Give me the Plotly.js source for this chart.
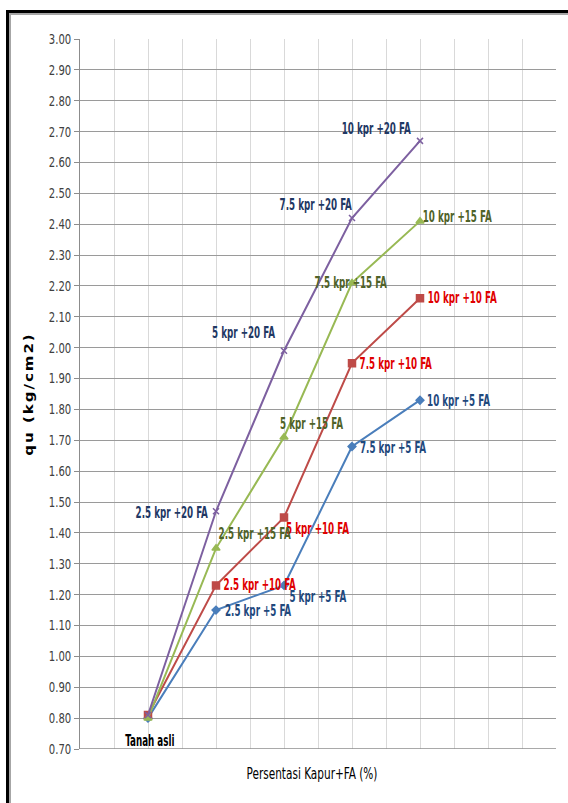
<!DOCTYPE html>
<html>
<head>
<meta charset="utf-8">
<script src="https://cdn.plot.ly/plotly-3.0.1.min.js"></script>
<style>
  html, body { margin: 0; padding: 0; background: #fff; }
  #chart { position: absolute; left: 0; top: 0; width: 568px; height: 803px; }
  #frame { position: absolute; left: 6px; top: 10px; width: 600px; height: 840px;
           border-left: 3px solid #000; border-top: 3px solid #000; pointer-events: none; }
  #frame2 { position: absolute; left: 9px; top: 13px; width: 600px; height: 840px;
           border-left: 2px solid #a6a6a6; border-top: 2px solid #a6a6a6; pointer-events: none; }
</style>
</head>
<body>
<div id="chart"></div>
<div id="frame"></div>
<div id="frame2"></div>
<script>
// Kapur percentage (x positions)
const kapur = [0, 2.5, 5, 7.5, 10];

// qu values (kg/cm2) for each FA series
const fa5  = [0.80, 1.15, 1.23, 1.68, 1.83];
const fa10 = [0.81, 1.23, 1.45, 1.95, 2.16];
const fa15 = [0.80, 1.35, 1.71, 2.21, 2.41];
const fa20 = [0.81, 1.47, 1.99, 2.42, 2.67];

// Point labels
const lbl5  = ["", "2.5 kpr +5 FA", "5 kpr +5 FA", "7.5 kpr +5 FA", "10 kpr +5 FA"];
const lbl10 = ["", "2.5 kpr +10 FA", "5 kpr +10 FA", "7.5 kpr +10 FA", "10 kpr +10 FA"];
const lbl15 = ["", "2.5 kpr +15 FA", "5 kpr +15 FA", "7.5 kpr +15 FA", "10 kpr +15 FA"];
const lbl20 = ["", "2.5 kpr +20 FA", "5 kpr +20 FA", "7.5 kpr +20 FA", "10 kpr +20 FA"];
const baseLabel = "Tanah asli";

const yTitle = "qu (kg/cm2)";
const xTitle = "Persentasi Kapur+FA (%)";

const COND = '"DejaVu Sans Condensed", "DejaVu Sans", sans-serif';

const series = [
  {y: fa5,  color: '#4a7ebb', symbol: 'diamond',     size: 6, labels: lbl5,  lc: '#1f497d',
   shifts: [null, [42, -1], [34, -12], [41, -2], [38, -1]]},
  {y: fa10, color: '#be4b48', symbol: 'square',      size: 7, labels: lbl10, lc: '#e00000',
   shifts: [null, [44, 0], [33, -12], [44, -1], [42, 0]]},
  {y: fa15, color: '#98b954', symbol: 'triangle-up', size: 7, labels: lbl15, lc: '#4f6228',
   shifts: [null, [39, 14], [27, 13], [-1, 0], [37, 4]]},
  {y: fa20, color: '#7d60a0', symbol: 'x-thin-open', size: 6, labels: lbl20, lc: '#1f3864',
   shifts: [null, [-44, -2], [-41, 18], [-36, 13], [-44, 12]]}
];

const traces = series.map(s => ({
  x: kapur, y: s.y, type: 'scatter', mode: 'lines+markers',
  line: {color: s.color, width: 2},
  marker: {color: s.color, symbol: s.symbol, size: s.size, line: {color: s.color, width: 1.5}},
  showlegend: false, hoverinfo: 'x+y'
}));

const annotations = [];
series.forEach(s => {
  kapur.forEach((xv, i) => {
    if (!s.labels[i]) return;
    annotations.push({
      x: xv, y: s.y[i], xref: 'x', yref: 'y', text: s.labels[i], showarrow: false,
      xshift: s.shifts[i][0], yshift: s.shifts[i][1],
      font: {family: COND, size: 15, color: s.lc, weight: 'bold'}
    });
  });
});
annotations.push({
  x: kapur[0], y: fa5[0], xref: 'x', yref: 'y', text: baseLabel, showarrow: false,
  xshift: 2, yshift: -23,
  font: {family: COND, size: 15, color: '#000', weight: 'bold'}
});

const layout = {
  width: 568, height: 803,
  margin: {l: 80, r: 12, t: 39, b: 54},
  paper_bgcolor: '#fff', plot_bgcolor: '#fff',
  showlegend: false,
  xaxis: {
    range: [-2.5, 15], tickmode: 'linear', tick0: -2.5, dtick: 1.25,
    showticklabels: false, ticks: '',
    showgrid: true, gridcolor: '#d9d9d9', gridwidth: 1,
    zeroline: false, showline: false,
    title: {text: xTitle, standoff: 19, font: {family: COND, size: 15, color: '#000'}}
  },
  yaxis: {
    range: [0.70, 3.00], tickmode: 'linear', tick0: 0.70, dtick: 0.1,
    tickformat: '.2f', ticks: 'outside', ticklen: 5, tickcolor: '#8c8c8c',
    tickfont: {family: COND, size: 14, color: '#404040'},
    showgrid: true, gridcolor: '#9a9a9a', gridwidth: 1,
    zeroline: false, showline: true, linecolor: '#8c8c8c', linewidth: 1,
    title: {text: yTitle, standoff: 4, font: {family: 'DejaVu Sans, sans-serif', size: 15, color: '#000', weight: 'bold'}}
  },
  shapes: [
    {type: 'line', xref: 'paper', yref: 'y', x0: 0, x1: 1, y0: 0.70, y1: 0.70,
     line: {color: '#8c8c8c', width: 1.5}}
  ],
  annotations: annotations
};

// Horizontally compress rendered texts (the reference uses very condensed lettering)
function squeeze(sel, kx, ky, dx) {
  document.querySelectorAll(sel).forEach(t => {
    const bb = t.getBBox();
    const anchor = t.getAttribute('text-anchor') || 'start';
    const ax = anchor === 'end' ? bb.x + bb.width : (anchor === 'middle' ? bb.x + bb.width / 2 : bb.x);
    const ay = bb.y + bb.height / 2;
    const ex = t.getAttribute('transform') || '';
    t.setAttribute('transform', ex + ' translate(' + (ax + (dx || 0)) + ',' + ay + ') scale(' + kx + ',' + ky + ') translate(' + (-ax) + ',' + (-ay) + ')');
  });
}

Plotly.newPlot('chart', traces, layout, {displayModeBar: false, staticPlot: true}).then(() => {
  document.querySelectorAll('.ytitle').forEach(t => { t.style.letterSpacing = '2px'; });
  squeeze('.ytick text', 0.8, 1);
  squeeze('.annotation-text', 0.65, 1);
  squeeze('.xtitle', 0.78, 1, -6);
  squeeze('.ytitle', 1, 0.8);
});
</script>
</body>
</html>
